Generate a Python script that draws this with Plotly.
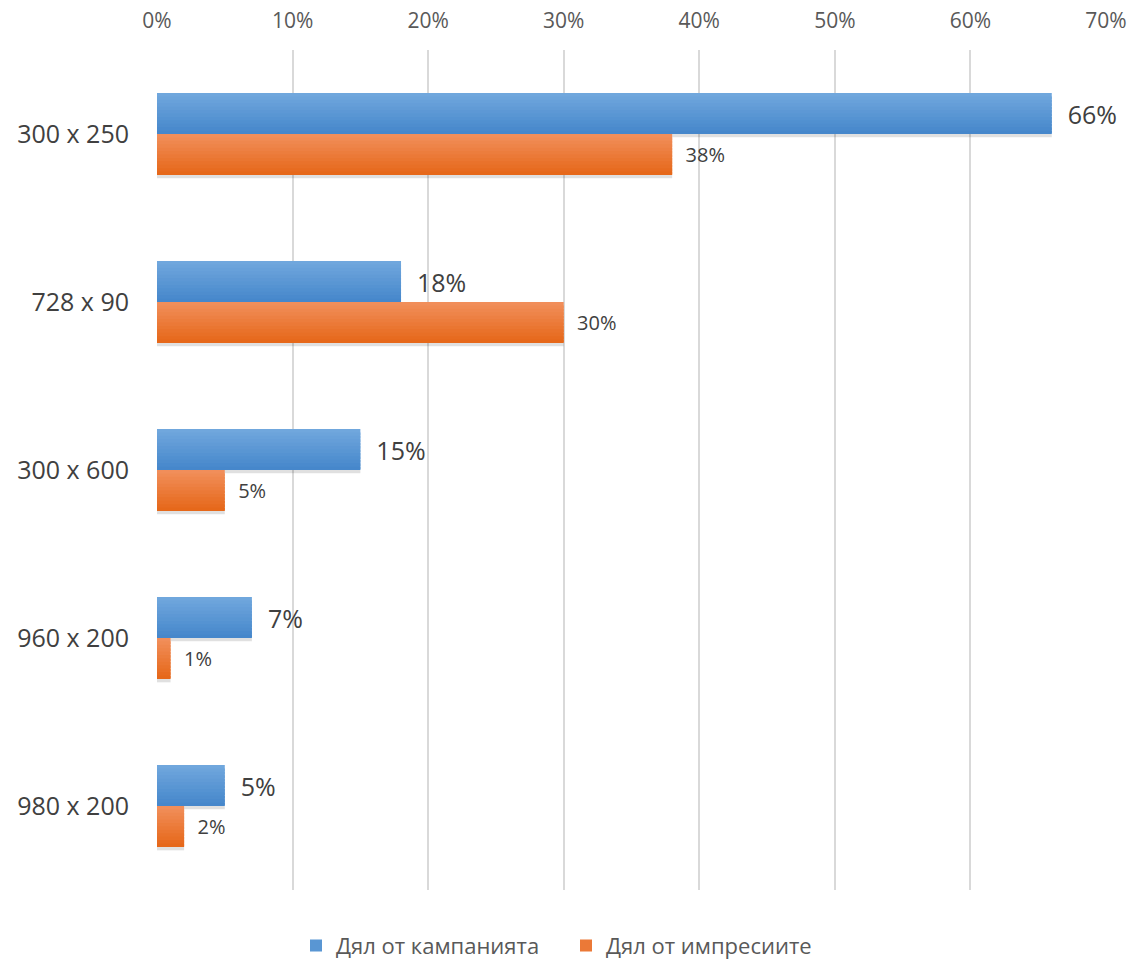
import plotly.graph_objects as go

categories = ["300 x 250", "728 x 90", "300 x 600", "960 x 200", "980 x 200"]
campaign_share = [0.66, 0.18, 0.15, 0.07, 0.05]
impression_share = [0.38, 0.30, 0.05, 0.01, 0.02]
series_names = ["Дял от кампанията", "Дял от импресиите"]
tick_vals = [0, 0.1, 0.2, 0.3, 0.4, 0.5, 0.6, 0.7]

T = 0.244      # bar thickness (category units)
N = 12         # gradient strips

def lerp(c1, c2, t):
    return "rgb(%d,%d,%d)" % tuple(round(a + (b - a) * t) for a, b in zip(c1, c2))

series = [
    dict(name=series_names[0], vals=campaign_share, base_off=-T,
         top=(112, 167, 221), bot=(70, 135, 203), font=25, pad="  "),
    dict(name=series_names[1], vals=impression_share, base_off=0.0,
         top=(241, 142, 90), bot=(230, 104, 26), font=20, pad="  "),
]

fig = go.Figure()

# soft shadows under the bars
for s in series:
    fig.add_trace(go.Bar(
        y=categories, x=s["vals"], orientation="h",
        offset=s["base_off"] + T, width=0.02,
        marker=dict(color="rgba(0,0,0,0.12)", line=dict(width=0)),
        showlegend=False, hoverinfo="skip"))

for s in series:
    for i in range(N):
        w = T / N * (1.0 if i == N - 1 else 1.8)
        fig.add_trace(go.Bar(
            y=categories, x=s["vals"], orientation="h",
            offset=s["base_off"] + i * T / N, width=w,
            marker=dict(color=lerp(s["top"], s["bot"], i / (N - 1)), line=dict(width=0)),
            name=s["name"], legendgroup=s["name"],
            showlegend=(i == N // 2), hoverinfo="skip"))
    # label trace
    fig.add_trace(go.Bar(
        y=categories, x=s["vals"], orientation="h",
        offset=s["base_off"], width=T,
        marker=dict(color="rgba(0,0,0,0)", line=dict(width=0)),
        text=[s["pad"] + "%d%%" % round(v * 100) for v in s["vals"]],
        textposition="outside", cliponaxis=False,
        textfont=dict(size=s["font"], color="#404040", family="Open Sans"),
        showlegend=False, name=s["name"], hoverinfo="skip"))

fig.update_layout(
    width=1132, height=967,
    barmode="overlay",
    plot_bgcolor="white", paper_bgcolor="white",
    margin=dict(l=157, r=26, t=50, b=77, autoexpand=False),
    font=dict(family="Open Sans", color="#595959"),
    xaxis=dict(side="top", range=[0, 0.7], tickvals=tick_vals, tickformat=".0%",
               showgrid=True, gridcolor="#D9D9D9", gridwidth=2,
               zeroline=False, showline=False, ticks="", automargin=False,
               ticklabelstandoff=17,
               tickfont=dict(size=21, color="#595959")),
    yaxis=dict(categoryorder="array", categoryarray=categories,
               range=[4.5, -0.5], showgrid=False, zeroline=False, ticks="",
               automargin=False, ticklabelstandoff=27,
               tickfont=dict(size=25, color="#404040")),
    legend=dict(orientation="h", xref="container", yref="container",
                x=0.5, xanchor="center", y=0.022, yanchor="middle",
                font=dict(size=22, color="#595959"), itemwidth=30,
                entrywidth=225, entrywidthmode="pixels",
                traceorder="normal"),
    showlegend=True,
)

fig.write_html(
    "out.html",
    config={"displayModeBar": False},
    post_script="document.body.style.margin='0';document.body.style.padding='0';"
                "document.body.style.overflow='hidden';",
)
